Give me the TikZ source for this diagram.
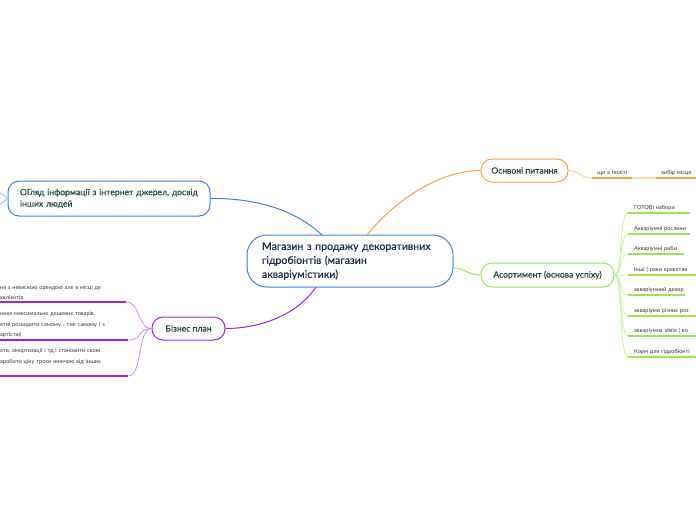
\documentclass[tikz,border=0pt]{standalone}
\usepackage{fontspec}
\setmainfont{Lato}
\newfontfamily\latomed[FakeBold=0.35]{Lato}
\definecolor{cblue}{HTML}{3B82E0}
\definecolor{corange}{HTML}{F7A531}
\definecolor{corangel}{HTML}{FBDDA8}
\definecolor{cgreen}{HTML}{9BE651}
\definecolor{cgreenl}{HTML}{C8F59A}
\definecolor{cpurple}{HTML}{A020F0}
\definecolor{cpurplel}{HTML}{D08CFF}
\definecolor{ctext}{HTML}{1B4638}
\definecolor{cnavy}{HTML}{1A2B4C}
\definecolor{citem}{HTML}{333333}
\tikzset{
  box/.style={draw, line width=1pt, fill=white, rounded corners=11pt, inner sep=0pt, font=\latomed\fontsize{8.6}{10}\selectfont, text=ctext},
  mainbox/.style={draw=cblue, line width=1pt, fill=white, rounded corners=20pt, minimum width=206pt, minimum height=52pt, inner sep=0pt, text width=176pt, align=left, font=\latomed\fontsize{10.6}{14}\selectfont, text=cnavy},
  item/.style={inner sep=0pt, inner ysep=2pt, font=\fontsize{5.6}{10.5}\selectfont, text=citem, anchor=south west, align=left},
  gline/.style={draw=cgreen, line width=1.2pt},
  gcon/.style={draw=cgreenl, line width=0.8pt},
  pline/.style={draw=cpurple, line width=1.2pt},
  pcon/.style={draw=cpurplel, line width=0.8pt},
}
\begin{document}
\begin{tikzpicture}[x=1pt,y=-1pt]
\useasboundingbox (0,0) rectangle (696,520);
% central
\node[mainbox] (c) at (350,261) {Магазин з продажу декоративних\\гідробіонтів (магазин\\акваріумістики)};
% branches
\node[box, draw=corange, minimum width=87pt, minimum height=23pt] (q) at (524.5,170.5) {Оснвоні питання};
\node[box, draw=cgreen, minimum width=133pt, minimum height=24pt] (a) at (547.5,275) {Асортимент (основа успіху)};
\node[box, draw=cblue, minimum width=202pt, minimum height=35pt, text width=178pt, align=left, font=\latomed\fontsize{8.6}{11.5}\selectfont] (o) at (109,198.5) {ОГляд інформації з інтернет джерел, досвід\\інших людей};
\node[box, draw=cpurple, minimum width=73pt, minimum height=23pt] (b) at (188.5,328.5) {БІзнес план};
% connectors from centre
\coordinate (cb) at (322,235);
\coordinate (co) at (367,235);
\coordinate (cg) at (453,268);
\coordinate (cp) at (316,287);
\draw[cblue, line width=1pt] (cb) .. controls (290,205) and (245,198) .. (o.east);
\draw[corange, line width=1pt] (co) .. controls (395,200) and (440,170.5) .. (q.west);
\draw[cgreen, line width=1pt] (cg) .. controls (465,268) and (468,275) .. (a.west);
\draw[cpurple, line width=1pt] (cp) .. controls (295,318) and (255,328.5) .. (b.east);
% blue left stub
\coordinate (ol1) at (-2,191);
\coordinate (ol2) at (-2,206);
\draw[cblue!50, line width=0.8pt] (o.west) -- (ol1);
\draw[cblue!50, line width=0.8pt] (o.west) -- (ol2);
% orange sub items
\node[item, text width=40pt, align=center] (q1) at (592,178) {що в політі};
\node[item, text width=40pt, align=center] (q2) at (656,178) {вибір місця};
\draw[corange, line width=1.3pt] (q1.south west) -- (q1.south east);
\draw[corangel, line width=1.3pt] (q1.south east) -- (q2.south west);
\draw[corange, line width=1.3pt] (q2.south west) -- (q2.south east);
\draw[corange!60, line width=0.8pt] (q.east) .. controls (580,170.5) and (580,178) .. (q1.south west);
% green items
\foreach \n/\y/\w/\t in {
  1/213/62/{ГОТОВІ набори},
  2/234/62/{Акваріумні рослини},
  3/254/56/{Акваріумні риби},
  4/275/68/{Інші ( раки креветки},
  5/295/57/{акваріумний декор},
  6/316/68/{акваріуми різних роз},
  7/336/68/{акваріумна хімія ( во},
  8/357/68/{Корм для гідробіонті}}{
  \node[item, minimum width=\w pt, text width=\w pt] (g\n) at (628,\y) {\hspace*{6pt}\mbox{\t}};
  \draw[gline] (g\n.south west) -- (g\n.south east);
  \draw[gcon] (a.east) .. controls +(8,0) and +(-9,0) .. (g\n.south west);
}
% purple items
\node[item, text width=126pt] (p1) at (0,302) {ня з невискою орендою але в місці де\\хклієнтів};
\node[item, text width=128pt] (p2) at (0,340) {ника максимально дешевих товарів,\\ятиі розводити самому - тиe самому ( з\\артістю)};
\node[item, text width=128pt] (p3) at (0,376) {ати, амортизації і тд і становити свою\\аробити ціну трохи нижчою від інших\\\mbox{}};
\foreach \n in {1,2,3}{
  \draw[pline] (p\n.south west) -- (p\n.south east);
  \draw[pcon] (b.west) .. controls +(-14,0) and +(14,0) .. (p\n.south east);
}
\end{tikzpicture}
\end{document}
